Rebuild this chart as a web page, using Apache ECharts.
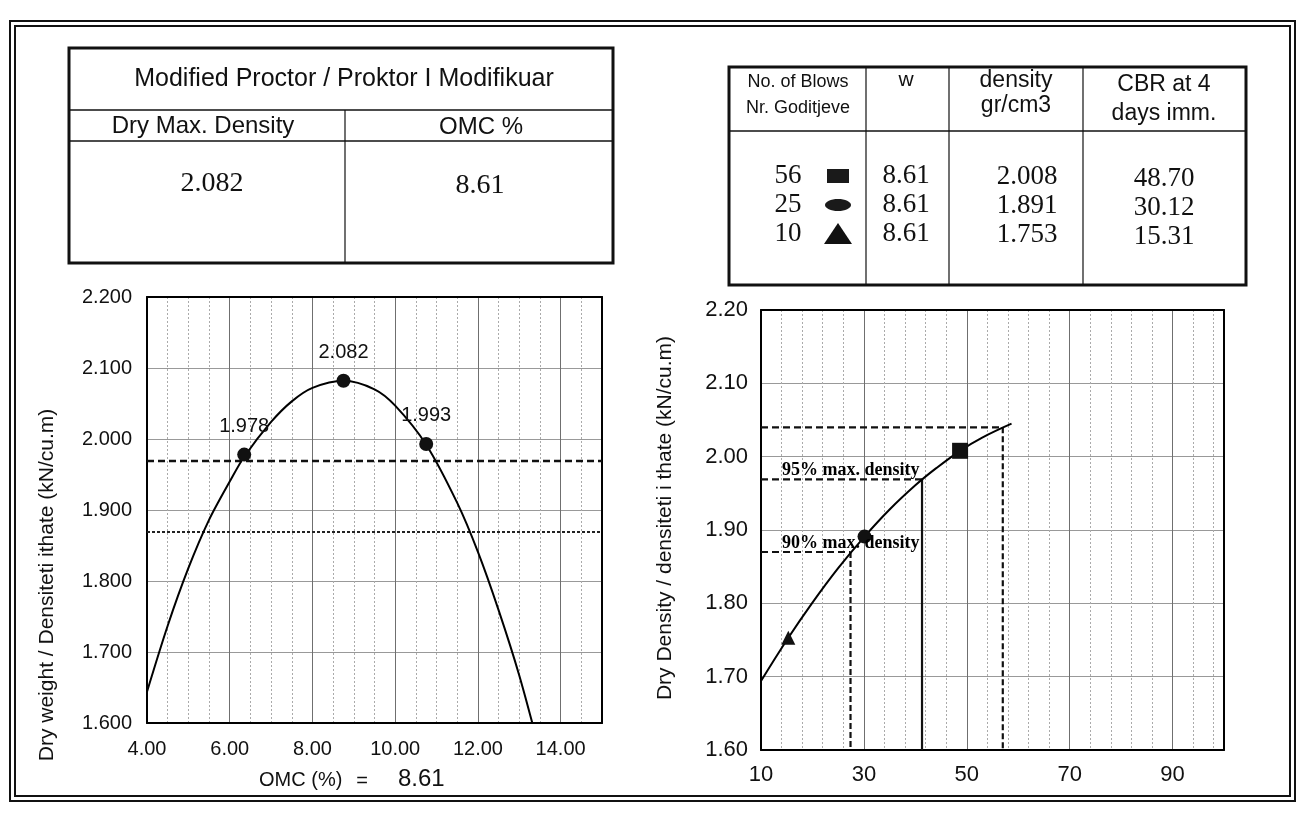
<!DOCTYPE html>
<html>
<head>
<meta charset="utf-8">
<script src="https://cdn.jsdelivr.net/npm/echarts@6/dist/echarts.min.js"></script>
<style>
html,body{margin:0;padding:0;background:#fff;}
#chart{width:1304px;height:819px;}
</style>
</head>
<body>
<div id="chart"></div>
<script>
// ---------------- DATA ----------------
// Modified Proctor test points (moisture %, dry density)
const proctorW = [6.35, 8.75, 10.75];
const proctorDensity = [1.978, 2.082, 1.993];
// Proctor fitted curve
const proctorCurveW = [4.0, 4.5, 5.0, 5.5, 6.0, 6.35, 7.0, 7.5, 8.0, 8.75, 9.5, 10.0, 10.75, 11.5, 12.0, 12.5, 13.0, 13.5];
const proctorCurveD = [1.644, 1.737, 1.818, 1.886, 1.940, 1.975, 2.024, 2.053, 2.072, 2.082, 2.070, 2.047, 1.992, 1.910, 1.841, 1.759, 1.667, 1.559];
// 95% / 90% reference levels on the Proctor chart
const proctorRefLevels = [1.969, 1.869];

// CBR points (CBR %, dry density)
const cbrValues = [15.31, 30.12, 48.70];
const cbrDensity = [1.753, 1.891, 2.008];
const cbrSymbols = ['triangle', 'circle', 'rect'];
// CBR fitted curve
const cbrCurveX = [10, 15.31, 20, 25, 30.12, 35, 40, 44, 48.7, 53, 58.7];
const cbrCurveD = [1.694, 1.753, 1.801, 1.848, 1.891, 1.928, 1.961, 1.984, 2.008, 2.026, 2.045];
// reference lines on CBR chart: density level, CBR where it meets the curve, label
const cbrRefLevels = [2.040, 1.969, 1.870];
const cbrRefX = [57.0, 41.3, 27.4];
const cbrRefLabels = ['', '95% max. density', '90% max. density'];

// Tables
const maxDryDensity = 2.082;
const omcValue = 8.61;
const blowsCount = [56, 25, 10];
const blowsMoisture = [8.61, 8.61, 8.61];
const blowsDensity = [2.008, 1.891, 1.753];
const blowsCBR = [48.70, 30.12, 15.31];
const blowsLegendShape = ['rect', 'ellipse', 'triangle'];

// Axis settings
const proctorXRange = [4, 15, 2];
const cbrXRange = [10, 100, 20];
const densityRange = [1.6, 2.2, 0.1];

// ---------------- HELPERS ----------------
const SANS = '"Liberation Sans", Arial, sans-serif';
const SERIF = '"Liberation Serif", "Times New Roman", serif';
const zip = (a, b) => a.map((v, i) => [v, b[i]]);

function txt(x, y, text, size, family, opts) {
  opts = opts || {};
  return {
    type: 'text', x: x, y: y, rotation: opts.rotation || 0, z: 10,
    style: {
      text: text, fontSize: size, fontFamily: family, fontWeight: opts.weight || 'normal',
      fill: '#111', align: opts.align || 'center', verticalAlign: 'middle'
    }
  };
}
function ln(x1, y1, x2, y2, w) {
  return { type: 'line', z: 10, shape: { x1: x1, y1: y1, x2: x2, y2: y2 }, style: { stroke: '#111', lineWidth: w || 1.5 } };
}
function box(x, y, w, h, lw) {
  return { type: 'rect', z: 10, shape: { x: x, y: y, width: w, height: h }, style: { fill: 'none', stroke: '#111', lineWidth: lw || 2 } };
}

// ---------------- GRAPHICS (frame, tables, titles) ----------------
const graphics = [];
// double outer frame
graphics.push(box(10, 21, 1285, 780, 2));
graphics.push(box(15, 26, 1275, 770, 2));

// Left table
graphics.push(box(69, 48, 544, 215, 3));
graphics.push(ln(69, 110, 613, 110, 1.5));
graphics.push(ln(69, 141, 613, 141, 1.5));
graphics.push(ln(345, 110, 345, 263, 1.2));
graphics.push(txt(344, 79, 'Modified Proctor / Proktor I Modifikuar', 25, SANS));
graphics.push(txt(203, 126, 'Dry Max. Density', 24, SANS));
graphics.push(txt(481, 127, 'OMC %', 24, SANS));
graphics.push(txt(212, 184, maxDryDensity.toFixed(3), 28, SERIF));
graphics.push(txt(480, 186, omcValue.toFixed(2), 28, SERIF));

// Right table
graphics.push(box(729, 67, 517, 218, 3));
graphics.push(ln(729, 131, 1246, 131, 1.5));
graphics.push(ln(866, 67, 866, 285, 1.2));
graphics.push(ln(949, 67, 949, 285, 1.2));
graphics.push(ln(1083, 67, 1083, 285, 1.2));
graphics.push(txt(798, 82, 'No. of Blows', 18, SANS));
graphics.push(txt(798, 108, 'Nr. Goditjeve', 18, SANS));
graphics.push(txt(906, 80, 'w', 21, SANS));
graphics.push(txt(1016, 81, 'density', 23, SANS));
graphics.push(txt(1016, 106, 'gr/cm3', 23, SANS));
graphics.push(txt(1164, 85, 'CBR at 4', 23, SANS));
graphics.push(txt(1164, 114, 'days imm.', 23, SANS));
const rowY = [176, 205, 234];
blowsCount.forEach((b, i) => {
  const y = rowY[i];
  graphics.push(txt(788, y, String(b), 27, SERIF));
  graphics.push(txt(906, y, blowsMoisture[i].toFixed(2), 27, SERIF));
  graphics.push(txt(1027, y + 1, blowsDensity[i].toFixed(3), 27, SERIF));
  graphics.push(txt(1164, y + 3, blowsCBR[i].toFixed(2), 27, SERIF));
  const sx = 838;
  if (blowsLegendShape[i] === 'rect') {
    graphics.push({ type: 'rect', z: 10, shape: { x: sx - 11, y: y - 7, width: 22, height: 14 }, style: { fill: '#1a1a1a' } });
  } else if (blowsLegendShape[i] === 'ellipse') {
    graphics.push({ type: 'ellipse', z: 10, shape: { cx: sx, cy: y, rx: 13, ry: 6 }, style: { fill: '#1a1a1a' } });
  } else {
    graphics.push({ type: 'polygon', z: 10, shape: { points: [[sx - 14, y + 10], [sx + 14, y + 10], [sx, y - 11]] }, style: { fill: '#111' } });
  }
});

// Axis titles
graphics.push(txt(47, 585, 'Dry weight / Densiteti ithate (kN/cu.m)', 21, SANS, { rotation: Math.PI / 2 }));
graphics.push(txt(665, 518, 'Dry Density / densiteti i thate (kN/cu.m)', 21, SANS, { rotation: Math.PI / 2 }));
// OMC line under the Proctor chart
graphics.push(txt(259, 780, 'OMC (%)', 20, SANS, { align: 'left' }));
graphics.push(txt(362, 781, '=', 20, SANS));
graphics.push(txt(398, 779, omcValue.toFixed(2), 24, SANS, { align: 'left' }));

// ---------------- AXES ----------------
function mainX(grid, r, fmt, fs, minorN, margin) {
  return {
    gridIndex: grid, type: 'value', min: r[0], max: r[1], interval: r[2],
    axisLine: { show: true, lineStyle: { color: '#000', width: 2 } },
    axisTick: { show: false },
    axisLabel: { margin: margin, fontSize: fs, fontFamily: SANS, color: '#111', formatter: fmt },
    splitLine: { show: true, lineStyle: { color: '#6f6f6f', width: 1 } },
    minorTick: { show: false, splitNumber: minorN },
    minorSplitLine: { show: true, lineStyle: { color: '#aaa', width: 1, type: [2, 2] } }
  };
}
function mainY(grid, r, fmt, fs, margin) {
  return {
    gridIndex: grid, type: 'value', min: r[0], max: r[1], interval: r[2],
    axisLine: { show: true, lineStyle: { color: '#000', width: 2 } },
    axisTick: { show: false },
    axisLabel: { margin: margin, fontSize: fs, fontFamily: SANS, color: '#111', formatter: fmt },
    splitLine: { show: true, lineStyle: { color: '#999', width: 1 } }
  };
}
function frameAxis(grid, r, pos) {
  return {
    gridIndex: grid, type: 'value', min: r[0], max: r[1], position: pos,
    axisLine: { show: true, onZero: false, lineStyle: { color: '#000', width: 2 } },
    axisTick: { show: false }, axisLabel: { show: false }, splitLine: { show: false }
  };
}

const xAxes = [
  mainX(0, proctorXRange, v => (v === proctorXRange[1] ? '' : v.toFixed(2)), 20, 4, 16),
  frameAxis(0, proctorXRange, 'top'),
  mainX(1, cbrXRange, v => (v === cbrXRange[1] ? '' : String(Math.round(v))), 22, 5, 14),
  frameAxis(1, cbrXRange, 'top')
];
const yAxes = [
  mainY(0, densityRange, v => v.toFixed(3), 20, 15),
  frameAxis(0, densityRange, 'right'),
  mainY(1, densityRange, v => v.toFixed(2), 22, 13),
  frameAxis(1, densityRange, 'right')
];

// ---------------- SERIES ----------------
const series = [];
// Proctor curve
series.push({
  type: 'line', xAxisIndex: 0, yAxisIndex: 0, data: zip(proctorCurveW, proctorCurveD),
  smooth: 0.3, showSymbol: false, clip: true, z: 4,
  lineStyle: { color: '#000', width: 2 }
});
// Proctor reference levels
proctorRefLevels.forEach((lvl, i) => {
  series.push({
    type: 'line', xAxisIndex: 0, yAxisIndex: 0,
    data: [[proctorXRange[0], lvl], [proctorXRange[1], lvl]],
    showSymbol: false, z: 3, silent: true,
    lineStyle: i === 0 ? { color: '#111', width: 2.5, type: [7, 4] } : { color: '#222', width: 2, type: [3, 2] }
  });
});
// Proctor points
series.push({
  type: 'scatter', xAxisIndex: 0, yAxisIndex: 0, data: zip(proctorW, proctorDensity),
  symbol: 'circle', symbolSize: 14, z: 6,
  itemStyle: { color: '#111', opacity: 1 },
  label: {
    show: true, position: 'top', distance: 11, fontSize: 20, fontFamily: SANS, color: '#111', opacity: 1,
    formatter: p => p.value[1].toFixed(3)
  }
});

// CBR curve
series.push({
  type: 'line', xAxisIndex: 2, yAxisIndex: 2, data: zip(cbrCurveX, cbrCurveD),
  smooth: 0.4, showSymbol: false, clip: true, z: 4,
  lineStyle: { color: '#000', width: 2 }
});
// CBR reference lines
cbrRefLevels.forEach((lvl, i) => {
  series.push({
    type: 'line', xAxisIndex: 2, yAxisIndex: 2,
    data: [[cbrXRange[0], lvl], [cbrRefX[i], lvl]],
    showSymbol: false, z: 3, silent: true,
    lineStyle: { color: '#111', width: 2.2, type: [7, 4] }
  });
  series.push({
    type: 'line', xAxisIndex: 2, yAxisIndex: 2,
    data: [[cbrRefX[i], lvl], [cbrRefX[i], densityRange[0]]],
    showSymbol: false, z: 3, silent: true,
    lineStyle: i === 1 ? { color: '#111', width: 2.2 } : { color: '#111', width: 2.2, type: [6, 3] }
  });
});
// CBR reference labels
series.push({
  type: 'scatter', xAxisIndex: 2, yAxisIndex: 2, z: 7, silent: true,
  data: cbrRefLevels.map((lvl, i) => ({ value: [cbrXRange[0], lvl], labelText: cbrRefLabels[i] })).filter(d => d.labelText),
  symbolSize: 0.01, itemStyle: { color: 'rgba(0,0,0,0)', opacity: 1 },
  label: {
    show: true, position: 'right', offset: [16, -9], fontSize: 18, fontFamily: SERIF, fontWeight: 'bold', color: '#000', opacity: 1,
    formatter: p => p.data.labelText
  }
});
// CBR points
series.push({
  type: 'scatter', xAxisIndex: 2, yAxisIndex: 2, z: 6,
  data: cbrValues.map((v, i) => ({ value: [v, cbrDensity[i]], symbol: cbrSymbols[i], symbolSize: cbrSymbols[i] === 'rect' ? 16 : 14 })),
  itemStyle: { color: '#111', opacity: 1 }
});

// ---------------- CHART ----------------
const chart = echarts.init(document.getElementById('chart'), null, { renderer: 'canvas' });
chart.setOption({
  animation: false,
  backgroundColor: '#fff',
  grid: [
    { left: 147, top: 297, width: 455, height: 426, containLabel: false },
    { left: 761, top: 310, width: 463, height: 440, containLabel: false }
  ],
  xAxis: xAxes,
  yAxis: yAxes,
  series: series,
  graphic: graphics
});
</script>
</body>
</html>
